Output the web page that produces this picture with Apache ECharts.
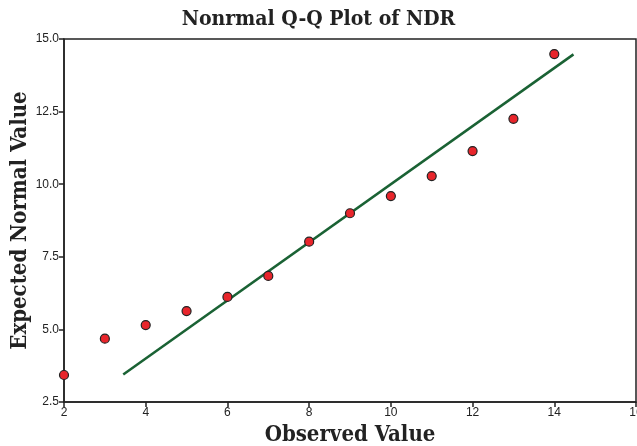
<!DOCTYPE html>
<html>
<head>
<meta charset="utf-8">
<script src="https://cdn.jsdelivr.net/npm/echarts@6/dist/echarts.min.js"></script>
<style>html,body{margin:0;padding:0;background:#fff}#c{width:637px;height:446px}</style>
</head>
<body>
<div id="c"></div>
<script>
const observed = [2, 3, 4, 5, 6, 7, 8, 9, 10, 11, 12, 13, 14];
const expected = [3.43, 4.68, 5.15, 5.63, 6.12, 6.84, 8.02, 9.0, 9.59, 10.28, 11.14, 12.25, 14.48];
const refLineX = [3.45, 14.47];
const refLineY = [3.45, 14.47];

const chart = echarts.init(document.getElementById('c'), null, {renderer: 'canvas'});
const axisTxt = {color: '#222', fontFamily: 'Liberation Sans, Arial', fontSize: 12};
const nameTxt = {fontFamily: 'DejaVu Serif Condensed', fontWeight: 'bold', fontSize: 22, color: '#222'};
chart.setOption({
  animation: false,
  title: {
    text: 'Nonrmal Q-Q Plot of NDR',
    left: 'center', top: 4,
    textStyle: {fontFamily: 'DejaVu Serif Condensed', fontWeight: 'bold', fontSize: 21, color: '#222'}
  },
  grid: {left: 64, right: 1, top: 39, bottom: 44, outerBoundsMode: 'none', containLabel: false,
         show: true, borderColor: '#222', borderWidth: 1.5},
  xAxis: {
    type: 'value', min: 2, max: 16, interval: 2,
    name: 'Observed Value', nameLocation: 'middle', nameGap: 22, nameMoveOverlap: false,
    nameTextStyle: nameTxt,
    axisLine: {lineStyle: {color: '#222', width: 1.5}},
    axisTick: {show: true, length: 5, lineStyle: {color: '#222', width: 1.5}},
    axisLabel: Object.assign({margin: 5}, axisTxt),
    splitLine: {show: false}
  },
  yAxis: {
    type: 'value', min: 2.5, max: 15, interval: 2.5,
    name: 'Expected Normal Value', nameLocation: 'middle', nameGap: 33, nameMoveOverlap: false,
    nameTextStyle: nameTxt,
    axisLine: {show: true, lineStyle: {color: '#222', width: 1.5}},
    axisTick: {show: true, length: 5, lineStyle: {color: '#222', width: 1.5}},
    axisLabel: Object.assign({margin: 5, formatter: v => v.toFixed(1)}, axisTxt),
    splitLine: {show: false}
  },
  series: [
    {
      type: 'line',
      data: refLineX.map((x, i) => [x, refLineY[i]]),
      symbol: 'none',
      lineStyle: {color: '#1a6234', width: 2.5},
      z: 2
    },
    {
      type: 'scatter',
      data: observed.map((x, i) => [x, expected[i]]),
      symbolSize: 9,
      itemStyle: {color: '#e8252b', borderColor: '#222', borderWidth: 1.2, opacity: 1},
      z: 3
    }
  ]
});
</script>
</body>
</html>
